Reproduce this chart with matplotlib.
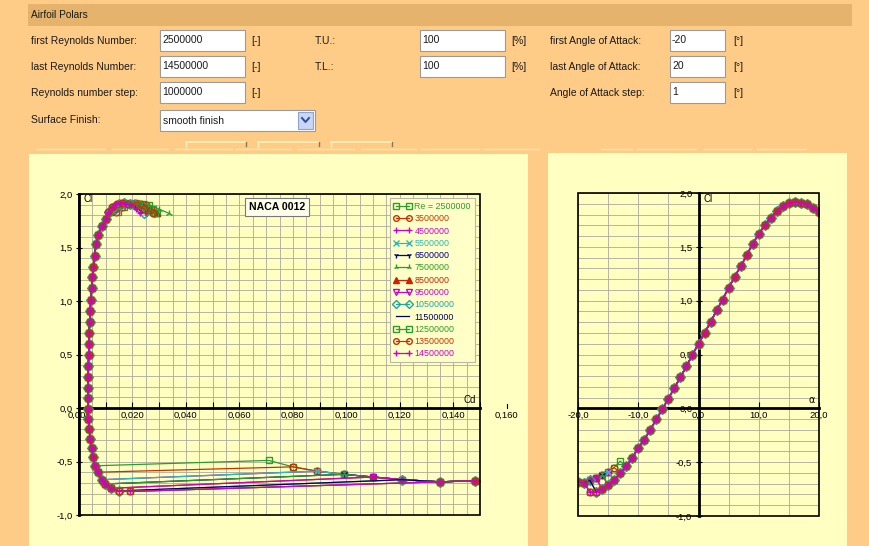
import matplotlib
matplotlib.use('Agg')
import matplotlib.pyplot as plt
from matplotlib.patches import Rectangle
from matplotlib.ticker import MultipleLocator, FuncFormatter

# ---------------- data ----------------
alpha = [-20, -19, -18, -17, -16, -15, -14, -13, -12, -11, -10, -9, -8, -7, -6, -5, -4, -3, -2, -1,
         0, 1, 2, 3, 4, 5, 6, 7, 8, 9, 10, 11, 12, 13, 14, 15, 16, 17, 18, 19, 20]

re_labels = ['Re = 2500000', '3500000', '4500000', '5500000', '6500000', '7500000', '8500000',
             '9500000', '10500000', '11500000', '12500000', '13500000', '14500000']

# first stalled angle of attack (negative side) for every Reynolds number
stall_alpha = [-13, -14, -15, -15, -16, -16, -17, -17, -18, -18, -19, -19, -19]

# stalled branch, alpha = -20 ... -13
cl_stalled = [-0.68, -0.69, -0.67, -0.645, -0.62, -0.59, -0.55, -0.49]
cd_stalled = [0.148, 0.135, 0.121, 0.110, 0.099, 0.089, 0.080, 0.071]

# attached branch, alpha = -18 ... 12
cl_attached = [-0.78, -0.775, -0.75, -0.71, -0.67, -0.60, -0.54, -0.46, -0.37, -0.29, -0.20,
               -0.10, -0.01, 0.09, 0.19, 0.29, 0.39, 0.50, 0.60, 0.70, 0.80, 0.91, 1.01, 1.12,
               1.22, 1.32, 1.42, 1.53, 1.62, 1.70, 1.77]
cd_attached = [0.0190, 0.0150, 0.0120, 0.0098, 0.0085, 0.0070, 0.0060, 0.0053, 0.0047, 0.0042,
               0.0038, 0.0035, 0.0033, 0.0033, 0.0033, 0.0034, 0.0035, 0.0036, 0.0037, 0.0038,
               0.0040, 0.0042, 0.0044, 0.0047, 0.0050, 0.0054, 0.0058, 0.0064, 0.0072, 0.0086,
               0.0102]

# maximum-lift region, alpha = 13 ... 20
cl_top = [1.83, 1.88, 1.91, 1.92, 1.91, 1.90, 1.86, 1.82]
cd_top = [
    [0.0147, 0.0170, 0.0195, 0.0215, 0.0240, 0.0262, 0.0278, 0.0290],
    [0.0140, 0.0162, 0.0186, 0.0208, 0.0232, 0.0252, 0.0268, 0.0282],
    [0.0132, 0.0152, 0.0175, 0.0198, 0.0220, 0.0240, 0.0256, 0.0270],
    [0.0126, 0.0146, 0.0168, 0.0190, 0.0212, 0.0232, 0.0248, 0.0262],
    [0.0122, 0.0140, 0.0161, 0.0183, 0.0205, 0.0225, 0.0242, 0.0256],
    [0.0124, 0.0146, 0.0172, 0.0200, 0.0230, 0.0262, 0.0298, 0.0336],
    [0.0118, 0.0136, 0.0158, 0.0182, 0.0208, 0.0236, 0.0264, 0.0292],
    [0.0116, 0.0132, 0.0152, 0.0174, 0.0196, 0.0216, 0.0234, 0.0250],
    [0.0114, 0.0130, 0.0149, 0.0170, 0.0191, 0.0210, 0.0228, 0.0244],
    [0.0112, 0.0128, 0.0146, 0.0166, 0.0186, 0.0204, 0.0222, 0.0238],
    [0.0112, 0.0127, 0.0145, 0.0164, 0.0196, 0.0224, 0.0256, 0.0286],
    [0.0110, 0.0125, 0.0142, 0.0160, 0.0182, 0.0212, 0.0244, 0.0276],
    [0.0108, 0.0122, 0.0138, 0.0156, 0.0176, 0.0196, 0.0212, 0.0228],
]

colors = ['#2E9B2E', '#C83200', '#CC00CC', '#2DB8B8', '#000090', '#2E9B2E', '#D02000',
          '#CC00CC', '#1FA5A5', '#00006A', '#2E9B2E', '#C83200', '#CC00CC']
markers = ['s', 'o', '+', 'x', '1', '2', '^', 'v', 'D', None, 's', 'o', '+']
filled = [False, False, True, True, True, True, True, False, False, True, False, False, True]

# ---------------- figure ----------------
W, H = 869, 546
fig = plt.figure(figsize=(W / 100, H / 100), dpi=100)
fig.patch.set_facecolor('#FFCC88')
FF = 'Liberation Sans'


def px_axes(x0, y0, x1, y1):
    return fig.add_axes([x0 / W, 1 - y1 / H, (x1 - x0) / W, (y1 - y0) / H])


bg = fig.add_axes([0, 0, 1, 1], zorder=0)
bg.set_xlim(0, W)
bg.set_ylim(H, 0)
bg.axis('off')


def rect(x, y, w, h, fc, ec='none', lw=0.8):
    bg.add_patch(Rectangle((x, y), w, h, facecolor=fc, edgecolor=ec, lw=lw))


def txt(x, y, s, size=7.5, **kw):
    bg.text(x, y, s, fontsize=size, family=FF, va='center', color='#1a1a1a', **kw)


# header bar
rect(28, 4, 824, 22, '#E5B36B')
txt(31, 15, 'Airfoil Polars', 7.3)

# form rows
rows = [
    (41, 30, 'first Reynolds Number:', '2500000', '[-]', 'T.U.:', '100', '[%]',
     'first Angle of Attack:', '-20', '[°]'),
    (67, 56, 'last Reynolds Number:', '14500000', '[-]', 'T.L.:', '100', '[%]',
     'last Angle of Attack:', '20', '[°]'),
    (93, 82, 'Reynolds number step:', '1000000', '[-]', None, None, None,
     'Angle of Attack step:', '1', '[°]'),
]
for (ty, by, l1, v1, u1, l2, v2, u2, l3, v3, u3) in rows:
    txt(31, ty, l1)
    rect(160, by, 85, 21, 'white', '#9a9a9a')
    txt(162, by + 10, v1, 7.5)
    txt(251, ty, u1)
    if l2:
        txt(315, ty, l2)
        rect(420, by, 85, 21, 'white', '#9a9a9a')
        txt(422, by + 10, v2, 7.5)
        txt(511, ty, u2)
    txt(550, ty, l3)
    rect(670, by, 55, 21, 'white', '#9a9a9a')
    txt(672, by + 10, v3, 7.5)
    txt(733, ty, u3)

txt(31, 120, 'Surface Finish:')
rect(160, 110, 155, 21, 'white', '#9a9a9a')
txt(163, 121, 'smooth finish', 7.5)
rect(298, 112, 15, 17, '#C9D6F4', '#8fa3cf')
bg.plot([302, 305.5, 309], [118, 122, 118], color='#304d9a', lw=1.4)

# tab strip lines
for x0, x1 in [(37, 105), (112, 168), (175, 232), (236, 291), (298, 354), (361, 416),
               (421, 479), (484, 539), (601, 632), (637, 696), (704, 751), (757, 806)]:
    bg.plot([x0, x1], [149, 149], color='#FFE9A8', lw=1.0)
for x0, x1 in [(186, 246), (258, 319), (331, 392)]:
    bg.plot([x0, x1], [142, 142], color='#FFF2BC', lw=1.2)
    bg.plot([x0, x0], [142, 147], color='#FFF2BC', lw=1.0)
    bg.plot([x1, x1], [142, 146], color='#8a7a50', lw=1.0)

# panels
rect(29, 154, 499, 400, '#FFFFC2')
rect(548, 153, 299, 400, '#FFFFC2')

GRID = '#A9A99C'
TICK_FS = 6.8


def fmt(dec, skip=None):
    def f(v, pos):
        if skip is not None and round(v / skip) % 2 != 0:
            return ''
        return (f'{v:.{dec}f}').replace('.', ',').replace('-0,000', '0,000')
    return FuncFormatter(f)


def series(i):
    s = stall_alpha[i]
    cl, cd = [], []
    for a in alpha:
        if a <= s:
            cl.append(cl_stalled[a + 20])
            cd.append(cd_stalled[a + 20])
        elif a <= 12:
            cl.append(cl_attached[a + 18])
            cd.append(cd_attached[a + 18])
        else:
            cl.append(cl_top[a - 13])
            cd.append(cd_top[i][a - 13])
    return cl, cd


def style_axes(ax):
    ax.set_facecolor('none')
    ax.grid(which='both', color=GRID, lw=0.6)
    ax.set_axisbelow(True)
    ax.spines['top'].set_visible(False)
    ax.spines['right'].set_visible(False)
    ax.spines['left'].set_linewidth(2)
    ax.spines['bottom'].set_linewidth(2)
    ax.spines['bottom'].set_position(('data', 0))
    ax.add_patch(Rectangle((0, 0), 1, 1, transform=ax.transAxes, fill=False,
                           ec='black', lw=1.2, clip_on=False, zorder=4))
    ax.tick_params(axis='x', which='major', direction='in', length=4, width=0.8,
                   labelsize=TICK_FS, pad=2)
    ax.tick_params(axis='y', which='major', direction='inout', length=5, width=0.8,
                   labelsize=TICK_FS, pad=2)
    ax.tick_params(which='minor', length=0)
    for lab in ax.get_xticklabels() + ax.get_yticklabels():
        lab.set_family(FF)


MS = 4.8
LW = 0.9

# ---------- left chart: Cl vs Cd ----------
ax1 = px_axes(79, 194, 480, 515)
ax1.set_zorder(2)
ax1.set_xlim(0, 0.15)
ax1.set_ylim(-1, 2)
ax1.xaxis.set_major_locator(MultipleLocator(0.01))
ax1.xaxis.set_minor_locator(MultipleLocator(0.005))
ax1.xaxis.set_major_formatter(fmt(3, 0.01))
ax1.yaxis.set_major_locator(MultipleLocator(0.5))
ax1.yaxis.set_minor_locator(MultipleLocator(0.1))
ax1.yaxis.set_major_formatter(fmt(1))
style_axes(ax1)

for i in range(len(re_labels)):
    cl, cd = series(i)
    mk = markers[i]
    ax1.plot(cd, cl, color=colors[i], lw=LW, marker=mk, ms=MS, mew=1.0,
             mfc=(colors[i] if filled[i] else 'none'), label=re_labels[i], zorder=3)

ax1.annotate('0,160', xy=(0.16, 0), xytext=(0, -2), textcoords='offset points',
             ha='center', va='top', fontsize=TICK_FS, family=FF, annotation_clip=False)
ax1.plot([0.16, 0.16], [0, 0.04], color='black', lw=0.8, clip_on=False)
ax1.text(83, 199, 'Cl', transform=bg.transData, fontsize=7, family=FF, va='center', zorder=5)
ax1.text(470, 400, 'Cd', transform=bg.transData, fontsize=7, family=FF, va='center',
         ha='center', zorder=5)
ax1.text(277, 207, 'NACA 0012', transform=bg.transData, fontsize=7.6, family=FF,
         fontweight='bold', ha='center', va='center', zorder=6,
         bbox=dict(boxstyle='square,pad=0.35', fc='#FFFFEC', ec='#777777', lw=0.8))

leg = ax1.legend(loc='upper right', bbox_to_anchor=(475 / W, 1 - 198 / H),
                 bbox_transform=fig.transFigure, borderaxespad=0, fontsize=6.4,
                 labelcolor='linecolor', frameon=True, fancybox=False, framealpha=1,
                 facecolor='#FFFFC8', edgecolor='#B8B8A8', handlelength=2.0,
                 handletextpad=0.35, labelspacing=0.37, numpoints=2, borderpad=0.45,
                 markerscale=0.85, prop={'family': FF, 'size': 6.4})
leg.set_zorder(7)
leg.get_frame().set_linewidth(0.8)

# ---------- right chart: Cl vs alpha ----------
ax2 = px_axes(578, 193, 819, 516)
ax2.set_zorder(2)
ax2.set_xlim(-20, 20)
ax2.set_ylim(-1, 2)
ax2.spines['left'].set_position(('data', 0))
ax2.xaxis.set_major_locator(MultipleLocator(10))
ax2.xaxis.set_minor_locator(MultipleLocator(5))
ax2.xaxis.set_major_formatter(fmt(1))
ax2.yaxis.set_major_locator(MultipleLocator(0.5))
ax2.yaxis.set_minor_locator(MultipleLocator(0.1))
ax2.yaxis.set_major_formatter(fmt(1))
style_axes(ax2)

for i in range(len(re_labels)):
    cl, cd = series(i)
    mk = markers[i]
    ax2.plot(alpha, cl, color=colors[i], lw=LW, marker=mk, ms=MS, mew=1.0,
             mfc=(colors[i] if filled[i] else 'none'), zorder=3)

ax2.text(704, 199, 'Cl', transform=bg.transData, fontsize=7, family=FF, va='center', zorder=5)
ax2.text(812, 400, 'α', transform=bg.transData, fontsize=7, family='DejaVu Sans',
         va='center', ha='center', zorder=5)

fig.savefig('out.png', dpi=100, facecolor=fig.get_facecolor())
